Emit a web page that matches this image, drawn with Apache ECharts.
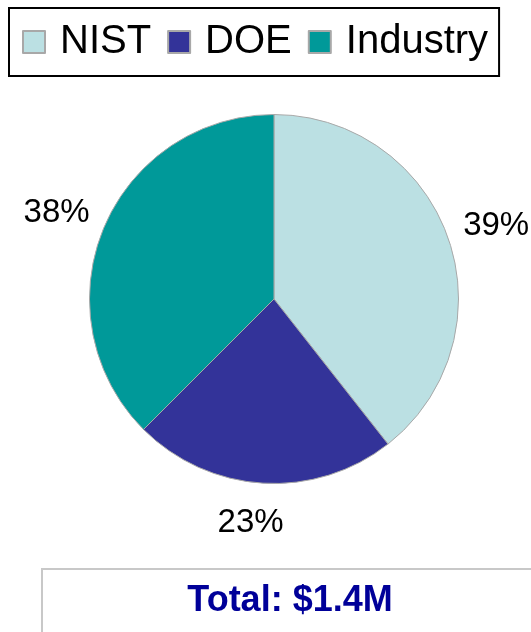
<!DOCTYPE html>
<html>
<head>
<meta charset="utf-8">
<script src="https://cdn.jsdelivr.net/npm/echarts@6/dist/echarts.min.js"></script>
<style>
  html, body { margin: 0; padding: 0; background: #fff; }
  #chart { width: 531px; height: 632px; }
</style>
</head>
<body>
<div id="chart"></div>
<script>
// funding share by source, percent of total
const sources = ["NIST", "DOE", "Industry"];
const shares = [39.4, 23.1, 37.5];
const sliceColors = ["#BBE0E3", "#333399", "#009999"];
const totalText = "Total: $1.4M";

const chart = echarts.init(document.getElementById("chart"));

const option = {
  animation: false,
  legend: {
    data: sources,
    left: 9,
    top: 8,
    padding: [9, 11, 9, 13],
    borderColor: "#000",
    borderWidth: 2,
    itemWidth: 22,
    itemHeight: 22,
    itemGap: 16,
    icon: "rect",
    textStyle: {
      fontFamily: "'Liberation Sans', Arial, sans-serif",
      fontSize: 40,
      lineHeight: 50,
      color: "#000",
      padding: [0, 0, 0, 10],
    },
  },
  series: [
    {
      type: "pie",
      center: [274, 299],
      radius: 184.5,
      startAngle: 90,
      clockwise: true,
      avoidLabelOverlap: false,
      percentPrecision: 0,
      silent: true,
      itemStyle: { borderColor: "#a8a8a8", borderWidth: 1 },
      label: {
        position: "outside",
        formatter: "{d}%",
        fontFamily: "'Liberation Sans', Arial, sans-serif",
        fontSize: 33,
        color: "#000",
        distanceToLabelLine: 5,
      },
      labelLine: { show: false, length: 40, length2: -28 },
      data: sources.map((name, i) => ({
        name,
        value: shares[i],
        itemStyle: { color: sliceColors[i] },
      })),
    },
  ],
  graphic: [
    {
      type: "rect",
      shape: { x: 42, y: 569, width: 520, height: 100 },
      style: { fill: "#fff", stroke: "#c8c8c8", lineWidth: 2 },
    },
    {
      type: "text",
      x: 290,
      y: 601,
      style: {
        text: totalText,
        fill: "#000099",
        fontFamily: "'Liberation Sans', Arial, sans-serif",
        fontWeight: "bold",
        fontSize: 36,
        align: "center",
        verticalAlign: "middle",
      },
    },
  ],
};

chart.setOption(option);
</script>
</body>
</html>
